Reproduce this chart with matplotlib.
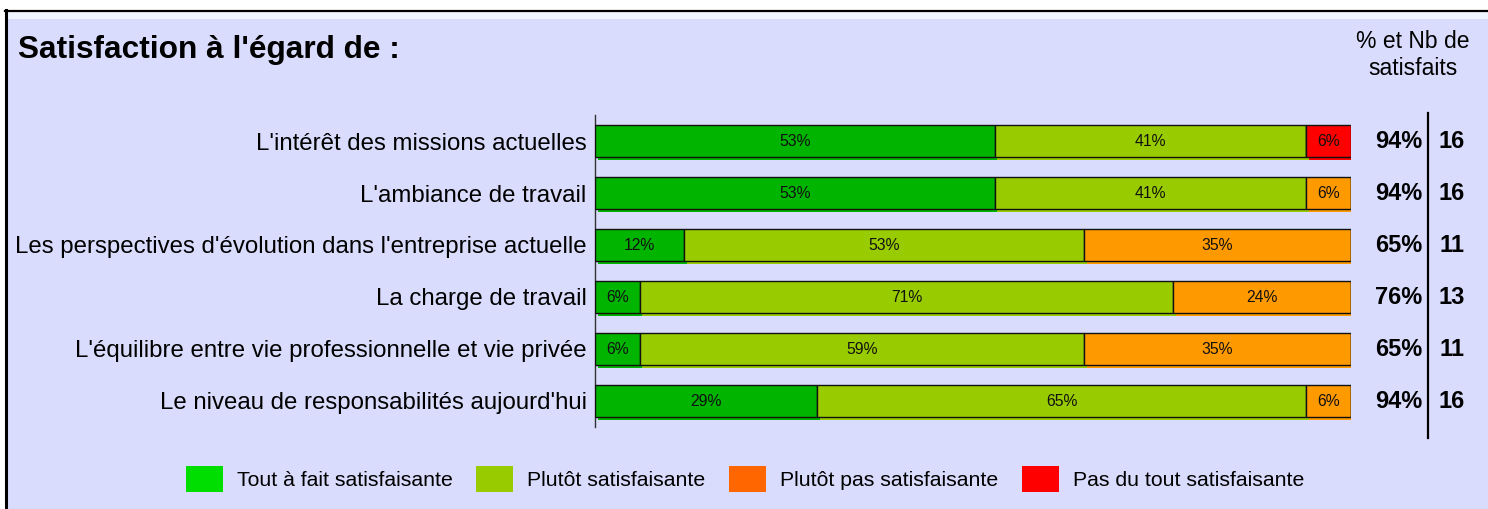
import matplotlib
matplotlib.use("Agg")
import matplotlib.pyplot as plt
import matplotlib.transforms as mtransforms
from matplotlib.patches import Rectangle, Patch
from matplotlib.lines import Line2D

plt.rcParams['font.family'] = ['Liberation Sans', 'DejaVu Sans']

categories = [
    "L'intérêt des missions actuelles",
    "L'ambiance de travail",
    "Les perspectives d'évolution dans l'entreprise actuelle",
    "La charge de travail",
    "L'équilibre entre vie professionnelle et vie privée",
    "Le niveau de responsabilités aujourd'hui",
]
series_names = ["Tout à fait satisfaisante", "Plutôt satisfaisante",
                "Plutôt pas satisfaisante", "Pas du tout satisfaisante"]
tout_a_fait = [52.9, 52.9, 11.8, 5.9, 5.9, 29.4]
plutot = [41.2, 41.2, 52.9, 70.6, 58.8, 64.7]
plutot_pas = [0.0, 5.9, 35.3, 23.5, 35.3, 5.9]
pas_du_tout = [5.9, 0.0, 0.0, 0.0, 0.0, 0.0]
pct_satisfaits = ["94%", "94%", "65%", "76%", "65%", "94%"]
nb_satisfaits = ["16", "16", "11", "13", "11", "16"]

bar_colors = ["#00B400", "#99CC00", "#FF9900", "#FF0000"]
legend_colors = ["#00DD00", "#99CC00", "#FF6600", "#FF0000"]
bg = "#D9DCFC"

W, H = 1488, 509
fig = plt.figure(figsize=(W / 100, H / 100), dpi=100)
fig.patch.set_facecolor("white")


def fx(px):
    return px / W


def fy(py):
    return 1 - py / H


# background panel and frame
fig.add_artist(Rectangle((fx(6), 0), 1 - fx(6), fy(11), transform=fig.transFigure,
                         facecolor=bg, edgecolor="none", zorder=0))
fig.add_artist(Rectangle((fx(6), fy(19)), 1 - fx(6), fy(11) - fy(19), transform=fig.transFigure,
                         facecolor="#F0F6FF", edgecolor="none", zorder=0))
fig.add_artist(Line2D([fx(5), 1], [fy(10.5), fy(10.5)], transform=fig.transFigure,
                      color="black", lw=1.6, zorder=1))
fig.add_artist(Line2D([fx(6), fx(6)], [0, fy(10)], transform=fig.transFigure,
                      color="black", lw=2.2, zorder=1))

ax = fig.add_axes([fx(595), fy(427), fx(1351) - fx(595), fy(115) - fy(427)])
ax.set_facecolor("none")
ax.set_xlim(0, 100)
ax.set_ylim(len(categories) - 0.5, -0.5)
for s in ["top", "right", "bottom"]:
    ax.spines[s].set_visible(False)
ax.spines["left"].set_color("#333333")
ax.spines["left"].set_linewidth(1.0)
ax.set_xticks([])
ax.set_yticks(range(len(categories)))
ax.set_yticklabels(categories, fontsize=17.3)
ax.tick_params(axis="y", length=0, pad=6)

ypos = list(range(len(categories)))
series = [tout_a_fait, plutot, plutot_pas, pas_du_tout]
bh = 0.62
shadow = mtransforms.offset_copy(ax.transData, fig=fig, x=2.5, y=-2.5, units="dots")
left = [0.0] * len(categories)
for vals, col in zip(series, bar_colors):
    ax.barh(ypos, vals, left=left, height=bh, color=col, edgecolor="none",
            transform=shadow, zorder=2)
    ax.barh(ypos, vals, left=left, height=bh, color=col, edgecolor="#111111",
            linewidth=1.0, zorder=3)
    for i, v in enumerate(vals):
        if v > 0:
            ax.text(left[i] + v / 2, i, f"{round(v)}%", ha="center", va="center",
                    fontsize=11.3, color="#111111", zorder=4)
    left = [l + v for l, v in zip(left, vals)]

# right-side figures
blend = mtransforms.blended_transform_factory(fig.transFigure, ax.transData)
for i in ypos:
    fig.text(fx(1422), i, pct_satisfaits[i], transform=blend, ha="right", va="center",
             fontsize=17, fontweight="bold")
    fig.text(fx(1452), i, nb_satisfaits[i], transform=blend, ha="center", va="center",
             fontsize=17, fontweight="bold")

fig.add_artist(Line2D([fx(1428), fx(1428)], [fy(113), fy(438)], transform=fig.transFigure,
                      color="black", lw=1.6))

fig.text(fx(18), fy(50), "Satisfaction à l'égard de :", ha="left", va="center",
         fontsize=22.8, fontweight="bold")
fig.text(fx(1413), fy(55), "% et Nb de\nsatisfaits", ha="center", va="center",
         fontsize=16.5, linespacing=1.2)

handles = [Patch(facecolor=c, edgecolor="none") for c in legend_colors]
fig.legend(handles, series_names, loc="center", bbox_to_anchor=(fx(745), fy(479)),
           ncol=4, frameon=False, fontsize=15.3, handlelength=1.74, handleheight=1.5,
           handletextpad=0.66, columnspacing=1.1)

fig.savefig("out.png", dpi=100, facecolor=fig.get_facecolor())
